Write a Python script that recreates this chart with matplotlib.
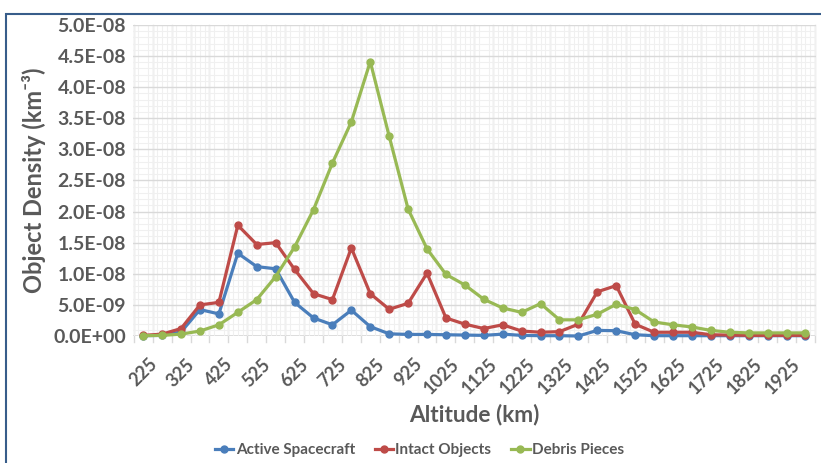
import numpy as np
import matplotlib
matplotlib.use("Agg")
import matplotlib.pyplot as plt
import matplotlib.transforms as mtrans
from matplotlib.ticker import FixedLocator, MultipleLocator, FuncFormatter
from matplotlib.patches import Rectangle

plt.rcParams['font.family'] = ['Lato', 'DejaVu Sans']

# altitude bins (km) and densities (units of 1e-9 km^-3)
altitudes = [225, 275, 325, 375, 425, 475, 525, 575, 625, 675, 725, 775,
             825, 875, 925, 975, 1025, 1075, 1125, 1175, 1225, 1275, 1325, 1375,
             1425, 1475, 1525, 1575, 1625, 1675, 1725, 1775, 1825, 1875, 1925, 1975]
active = [0.05, 0.1, 0.65, 4.25, 3.55, 13.3, 11.15, 10.8, 5.4, 2.9, 1.8, 4.15,
          1.5, 0.35, 0.25, 0.25, 0.2, 0.15, 0.1, 0.3, 0.1, 0.05, 0.05, 0.0,
          0.9, 0.85, 0.2, 0.05, 0.05, 0.05, 0.05, 0.05, 0.05, 0.05, 0.05, 0.05]
intact = [0.1, 0.3, 1.2, 5.0, 5.4, 17.8, 14.7, 15.0, 10.7, 6.8, 5.85, 14.15,
          6.8, 4.3, 5.25, 10.1, 2.9, 1.9, 1.2, 1.8, 0.8, 0.6, 0.7, 1.9,
          7.1, 8.1, 1.9, 0.6, 0.6, 0.6, 0.2, 0.15, 0.1, 0.1, 0.1, 0.1]
debris = [0.05, 0.1, 0.3, 0.8, 1.8, 3.8, 5.85, 9.55, 14.3, 20.3, 27.8, 34.4,
          44.1, 32.1, 20.4, 14.0, 9.9, 8.2, 5.9, 4.5, 3.8, 5.2, 2.6, 2.6,
          3.5, 5.1, 4.25, 2.25, 1.8, 1.45, 0.9, 0.6, 0.5, 0.5, 0.5, 0.5]
tick_labels = [225, 325, 425, 525, 625, 725, 825, 925, 1025, 1125, 1225,
               1325, 1425, 1525, 1625, 1725, 1825, 1925]

scale = 1e-9
txt = '#595959'

fig = plt.figure(figsize=(8.21, 4.63), dpi=100)
ax = fig.add_axes([0.162, 0.2743, 0.8315, 0.672])

# outer frame
fig.patches.append(Rectangle((0.0073, -0.05), 1.2, 1.03 - 0.01, transform=fig.transFigure,
                             fill=False, edgecolor='#385D8A', linewidth=1.5))

series = [(active, 'Active Spacecraft', '#4A7EBB'),
          (intact, 'Intact Objects', '#BE4B48'),
          (debris, 'Debris Pieces', '#98B954')]
for vals, name, col in series:
    ax.plot(altitudes, np.array(vals) * scale, color=col, lw=2.3, marker='o',
            markersize=5, label=name, zorder=3, clip_on=False)

ax.set_xlim(198, 2002)
ax.set_ylim(0, 5e-8)

# gridlines
ax.yaxis.set_major_locator(MultipleLocator(5e-9))
ax.yaxis.set_minor_locator(MultipleLocator(1e-9))
ax.xaxis.set_major_locator(FixedLocator(tick_labels))
ax.xaxis.set_minor_locator(MultipleLocator(12.5))
ax.grid(axis='y', which='major', color='#D9D9D9', lw=1.0, zorder=0)
ax.grid(which='minor', color='#F0F0F0', lw=0.8, zorder=0)
for b in range(200, 2001, 50):
    ax.axvline(b, ymin=-0.02, ymax=1, color='#D9D9D9', lw=1.0, zorder=1, clip_on=False)
ax.axhline(0, color='#D9D9D9', lw=1.2, zorder=1)

for s in ax.spines.values():
    s.set_visible(False)

ax.tick_params(which='both', length=0)
ax.tick_params(axis='y', pad=5)
ax.tick_params(axis='x', pad=14)
ax.yaxis.set_major_formatter(FuncFormatter(lambda v, p: f"{v:.1E}"))
for lab in ax.get_yticklabels():
    lab.set_fontsize(14)
    lab.set_fontweight('bold')
    lab.set_color(txt)
ax.set_xticks(tick_labels)
ax.set_xticklabels([str(t) for t in tick_labels], rotation=45, ha='right',
                   rotation_mode='anchor', fontsize=13, fontweight='bold', color=txt)
shift = mtrans.ScaledTranslation(5 / 100, 0, fig.dpi_scale_trans)
for lab in ax.get_xticklabels():
    lab.set_transform(lab.get_transform() + shift)

ax.set_xlabel('Altitude (km)', fontsize=16.3, fontweight='bold', color=txt)
ax.set_ylabel('Object Density (km\u207b\u00b3)', fontsize=17, fontweight='bold', color=txt)
ax.xaxis.set_label_coords(0.5, -0.218)
ax.yaxis.set_label_coords(-0.127, 0.5)

fig.legend(loc='center', bbox_to_anchor=(0.511, 0.028), ncol=3, frameon=False,
           handlelength=1.2, handletextpad=0.15, columnspacing=1.3,
           prop={'size': 11, 'weight': 'bold'}, labelcolor=txt)

fig.savefig('out.png', dpi=100)
